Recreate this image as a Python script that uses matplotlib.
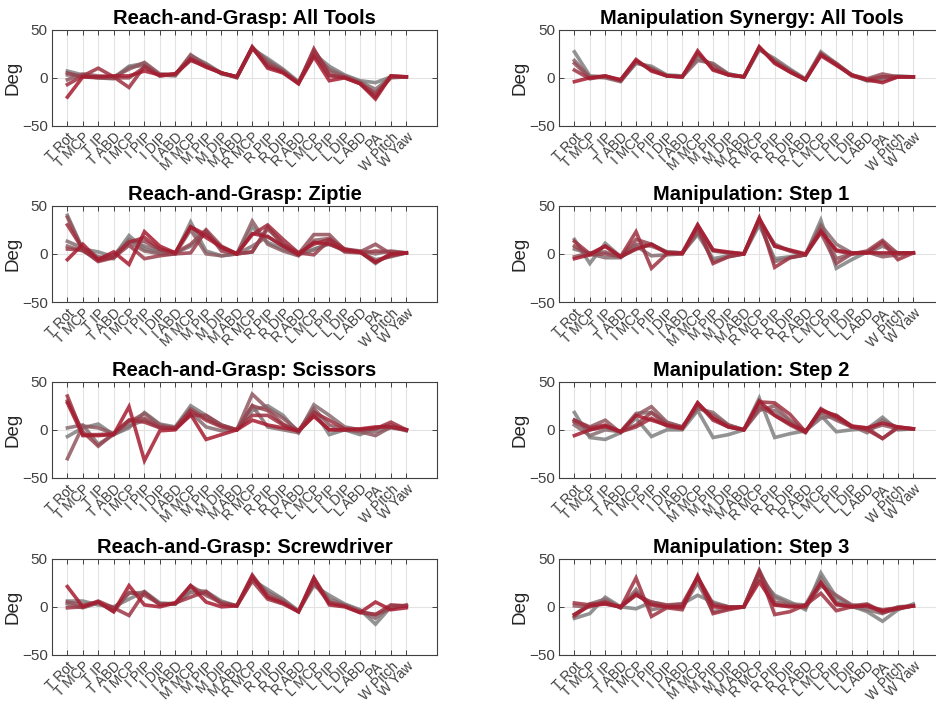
import matplotlib

matplotlib.use("Agg")
import matplotlib.pyplot as plt
import numpy as np
from matplotlib.colors import to_rgb

JOINTS = ["T Rot", "T MCP", "T IP", "T ABD", "I MCP", "I PIP", "I DIP", "I ABD",
          "M MCP", "M PIP", "M DIP", "M ABD", "R MCP", "R PIP", "R DIP", "R ABD",
          "L MCP", "L PIP", "L DIP", "L ABD", "PA", "W Pitch", "W Yaw"]

# joint angle synergies (deg), one row per subject, drawn grey -> red
RG_ALL = [
    [7, 3, 1, 0, 12, 15, 3, 3, 23, 15, 5, 1, 30, 20, 9, -4, 25, 12, 3, -3, -5, 1, 1],
    [3, 2, 0, -1, 11, 13, 3, 2, 21, 14, 4, 1, 31, 18, 8, -5, 23, 9, 2, -4, -12, 1, 1],
    [-2, 4, 2, 1, 9, 16, 4, 3, 24, 13, 5, 1, 32, 16, 7, -5, 28, 7, 1, -5, -17, 0, 1],
    [5, 1, 0, 0, 0, 11, 2, 4, 18, 12, 5, 0, 31, 14, 6, -5, 25, 2, 1, -6, -16, 1, 1],
    [-7, 2, 10, 1, -10, 12, 2, 4, 20, 12, 5, 1, 31, 12, 6, -6, 30, 3, 0, -6, -20, 2, 1],
    [-20, 1, 1, 2, 2, 7, 3, 4, 19, 11, 5, 1, 32, 10, 5, -6, 22, -3, 0, -6, -22, 2, 1],
]
MANIP_ALL = [
    [27, 2, 1, -3, 15, 12, 3, 2, 20, 14, 4, 1, 29, 20, 9, -1, 27, 15, 3, -3, 0, 2, 1],
    [18, 1, 0, -4, 16, 10, 2, 1, 18, 15, 4, 1, 30, 18, 8, -2, 25, 14, 3, -3, -3, 1, 1],
    [15, 0, 1, -2, 17, 9, 2, 1, 24, 12, 3, 1, 31, 17, 7, -2, 24, 15, 3, -1, 4, 1, 1],
    [8, -1, 2, -3, 18, 8, 2, 1, 26, 9, 3, 1, 32, 16, 6, -2, 25, 14, 2, -2, 1, 1, 1],
    [-4, 0, 2, -2, 19, 7, 2, 1, 28, 8, 3, 1, 32, 15, 6, -2, 23, 13, 3, -2, -5, 1, 1],
]
RG_ZIPTIE = [
    [40, 5, 2, -3, 19, 5, 1, 0, 33, 3, -2, 0, 28, 12, 5, -1, 5, 10, 3, 2, -10, 1, 1],
    [13, 6, -3, -5, 15, 8, 3, 1, 8, 22, 6, 0, 8, 18, 8, 0, 4, 12, 3, 2, -6, -3, 1],
    [8, 3, -6, -3, 12, 3, 0, 0, 25, 0, -2, 0, 34, 10, 3, -2, 14, 16, 5, 3, 0, 3, 1],
    [38, 4, -5, -1, 13, 13, 4, 1, 10, 25, 8, 0, 2, 26, 10, 0, 20, 20, 4, 2, 10, 0, 1],
    [5, 4, -8, -4, 9, -5, -2, 0, 1, 24, 3, 0, 2, 28, 10, 1, -1, 14, 2, 1, 3, 2, 1],
    [30, 5, -7, -3, 12, 17, 5, 1, 28, 20, 7, 0, 20, 30, 15, 1, 10, 15, 5, 2, -8, -2, 1],
    [-6, 10, -6, 2, -11, 23, 8, 1, 28, 17, 7, 0, 21, 18, 8, -1, 12, 10, 4, 2, -9, 0, 1],
]
MANIP_STEP1 = [
    [15, -10, 11, -3, 5, 10, 2, 1, 20, -5, -2, 0, 30, -5, -3, -1, 35, -15, -6, 2, 0, 1, 1],
    [5, 0, -4, -4, 8, -2, -1, 0, 24, -8, -3, 0, 33, -8, -4, -1, 30, 10, 1, 1, 8, 1, 1],
    [-3, 1, 2, -3, 10, 8, 2, 1, 22, 3, 1, 0, 35, 10, 3, -1, 28, -5, 0, 2, -3, -1, 1],
    [8, -1, 0, -3, 15, 10, 1, 1, 30, 4, 1, 0, 36, 8, 3, -1, 22, -10, 0, 3, 14, 0, 1],
    [13, 0, 8, -3, 23, -15, 0, 1, 28, -10, -3, 0, 37, -14, -4, -1, 24, 3, 0, 1, 12, -6, 1],
    [-5, -1, 8, -3, 5, 10, 1, 0, 30, 4, 2, 0, 37, 8, 4, 0, 23, 4, 1, 1, 1, 1, 1],
]
RG_SCISSORS = [
    [-7, 2, 6, -5, 2, 18, 6, 3, 25, 15, 5, 0, 20, 25, 15, -3, 20, -5, 0, -5, 2, 3, 0],
    [2, 5, -15, -5, 4, 10, 3, 2, 18, 3, -1, 0, 25, 3, 0, -3, 26, 15, 3, 0, -2, 2, 0],
    [-30, 4, 2, -4, 8, 17, 5, 2, 22, 12, 4, 0, 37, 22, 12, -1, 22, 5, 0, -2, -6, 3, -1],
    [30, -2, -17, -4, 10, 12, 3, 1, 15, 15, 5, 0, 25, 20, 6, -2, 15, 0, 0, 0, 2, 5, 0],
    [35, -5, -5, -4, 10, 8, 2, 2, 20, 10, 3, 0, 15, 15, 5, -1, 18, 10, 1, 0, 1, 8, 0],
    [28, -6, -6, -5, 24, -32, -1, 0, 16, -10, -5, 0, 10, 5, 2, -1, 14, 0, 0, 1, 3, 3, 0],
]
MANIP_STEP2 = [
    [18, -8, -10, -3, 12, -7, 0, 0, 20, -8, -5, 0, 33, -8, -4, -1, 15, -2, 0, 1, 13, 0, 1],
    [5, -6, 0, -2, 17, 18, 7, 3, 22, 18, 5, 0, 22, 20, 8, -1, 12, 15, 4, -3, 10, 2, 1],
    [10, 3, 10, -3, 15, 24, 8, 3, 24, 15, 5, 0, 20, 25, 10, -2, 18, 10, 3, 0, 5, 1, 1],
    [8, 0, 3, -2, 5, 18, 5, 2, 26, 12, 3, 0, 25, 15, 5, -3, 22, 12, 3, 2, -9, 2, 1],
    [10, 2, 5, -2, 3, 12, 4, 1, 28, 10, 3, 0, 29, 28, 16, -2, 20, 15, 3, 0, -9, 3, 1],
    [-6, 0, 4, -2, 15, 10, 5, 2, 28, 12, 3, 0, 30, 15, 6, -2, 21, 14, 4, 2, 7, 3, 1],
]
RG_SCREWDRIVER = [
    [6, 6, 2, 0, 8, 16, 4, 3, 18, 16, 6, 1, 28, 18, 8, -4, 22, 12, 3, -3, -18, 0, 1],
    [3, -1, 4, -2, 14, 15, 3, 3, 15, 14, 5, 1, 30, 15, 7, -5, 25, 8, 2, -4, -12, 1, 1],
    [5, 2, 5, -5, 15, 12, 3, 3, 22, 12, 4, 1, 33, 12, 5, -5, 30, 5, 1, -5, -8, -2, 2],
    [-1, 0, 6, -1, -9, 15, 2, 4, 10, 16, 3, 1, 27, 8, 3, -5, 25, 4, 1, -6, -8, 2, 1],
    [21, 0, 5, -5, 22, 2, 0, 4, 22, 5, 0, 1, 32, 10, 4, -5, 30, 2, 0, -6, 5, -3, -1],
]
MANIP_STEP3 = [
    [-12, -7, 10, 0, -2, 5, 1, 3, 12, 5, 0, 0, 30, 12, 5, -3, 35, 10, 1, -5, -15, -3, 3],
    [-8, 3, 8, -1, 18, -3, 0, -1, 25, -5, -2, 0, 35, 10, 3, 2, 30, 5, 0, -3, -7, 0, 1],
    [1, 0, 5, 0, 15, 3, 1, 0, 30, 2, 0, 0, 38, 5, 2, -1, 22, 12, 2, 0, -3, -1, 1],
    [-10, 3, 3, 0, 12, 5, 2, 3, 31, 3, 0, 0, 37, 2, 1, 0, 25, 2, 1, 3, -5, -2, 1],
    [4, 2, 5, -1, 30, -10, -1, -3, 32, -7, -3, 0, 36, -8, -5, 2, 14, -4, 0, 2, -6, -2, 1],
    [-8, 1, 3, 0, 13, 2, 0, 0, 31, 0, -1, 0, 26, 2, 0, 1, 25, 3, 0, 1, -4, -1, 1],
]

PANELS = [
    ("Reach-and-Grasp: All Tools", RG_ALL),
    ("Manipulation Synergy: All Tools", MANIP_ALL),
    ("Reach-and-Grasp: Ziptie", RG_ZIPTIE),
    ("Manipulation: Step 1", MANIP_STEP1),
    ("Reach-and-Grasp: Scissors", RG_SCISSORS),
    ("Manipulation: Step 2", MANIP_STEP2),
    ("Reach-and-Grasp: Screwdriver", RG_SCREWDRIVER),
    ("Manipulation: Step 3", MANIP_STEP3),
]

GREY = np.array(to_rgb("#808080"))
CRIMSON = np.array(to_rgb("#A51C30"))
AXCOL = "#404040"
FONT = ["Liberation Sans", "DejaVu Sans"]

plt.rcParams["font.family"] = FONT

fig = plt.figure(figsize=(9.37, 7.03), dpi=100)
fig.patch.set_facecolor("white")

# right column runs off the page edge on purpose
col_x = [0.0555, 0.5966]
row_y = [0.8208, 0.5704, 0.3201, 0.0683]
w, h = 0.411, 0.137

x = np.arange(1, len(JOINTS) + 1)
for i, (title, rows) in enumerate(PANELS):
    ax = fig.add_axes([col_x[i % 2], row_y[i // 2], w, h])
    n = len(rows)
    for k, vals in enumerate(rows):
        t = k / (n - 1)
        c = GREY * (1 - t) + CRIMSON * t
        ax.plot(x, vals, color=c, lw=2.6, alpha=0.85, solid_joinstyle="miter")
    ax.set_xlim(0, 25)
    ax.set_ylim(-50, 50)
    ax.set_yticks([-50, 0, 50])
    ax.set_xticks(x)
    ax.set_xticklabels(JOINTS, rotation=45, ha="right", rotation_mode="anchor",
                       fontsize=10)
    ax.grid(True, color="#e3e3e3", lw=0.8)
    ax.set_axisbelow(True)
    ax.tick_params(axis="y", labelsize=11)
    ax.tick_params(direction="in", length=3.5, width=0.7, colors=AXCOL,
                   top=True, right=True, pad=3)
    for s in ax.spines.values():
        s.set_color(AXCOL)
        s.set_linewidth(0.8)
    ax.set_ylabel("Deg", fontsize=13.5, color="#262626", labelpad=0)
    ax.set_title(title, fontsize=14.5, fontweight="bold", color="black", pad=4)

fig.savefig("out.png", dpi=100, facecolor="white")
